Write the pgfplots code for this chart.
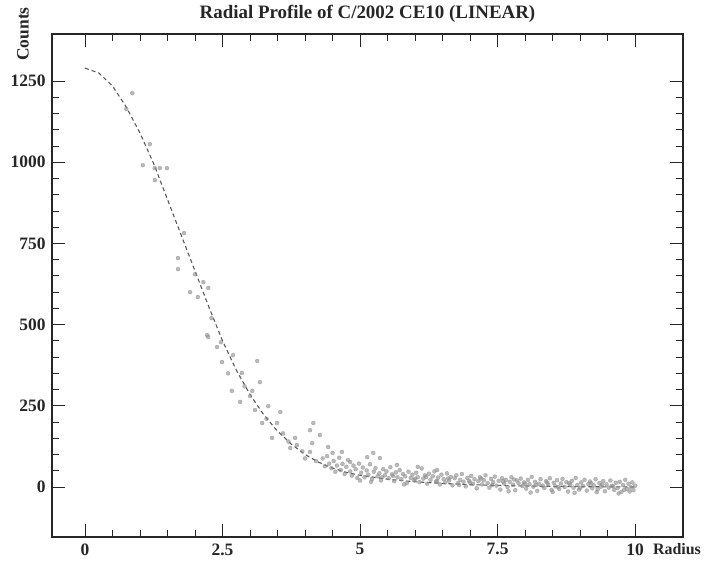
\documentclass[border=0pt]{standalone}
\usepackage{fontspec}
\setmainfont{Liberation Serif}
\usepackage{pgfplots}
\pgfplotsset{compat=1.18}

\begin{document}
\begin{tikzpicture}[font=\fontsize{17.5}{19}\selectfont\bfseries]
\begin{axis}[
    name=ax,
    scale only axis,
    width=631bp, height=503bp,
    xmin=-0.6, xmax=10.87,
    ymin=-154, ymax=1395,
    xtick={0,2.5,5,7.5,10},
    ytick={0,250,500,750,1000,1250},
    minor x tick num=4,
    minor y tick num=4,
    tick align=inside,
    major tick length=13bp,
    minor tick length=7bp,
    axis line style={line width=1.3bp, black!85},
    every tick/.style={black!85, line width=0.9bp},
    /pgf/number format/assume math mode=true,
    /pgf/number format/1000 sep={},
    xticklabel style={yshift=-3bp, black!85},
    yticklabel style={xshift=-3bp, black!85},
    title={Radial Profile of C/2002 CE10 (LINEAR)},
    title style={at={(axis description cs:0.5,1)}, anchor=center, yshift=14bp, black!85, font=\fontsize{19}{21}\selectfont\bfseries},
    ylabel={Counts},
    ylabel style={at={(axis description cs:-0.046,1)}, anchor=center, black!85},
    xlabel={Radius},
    xlabel style={at={(axis description cs:0.9905,0)}, anchor=north, yshift=-3bp, black!85, font=\fontsize{16}{18}\selectfont\bfseries},
]
% fitted profile
\addplot[gray!70!black, line width=1.1bp, dash pattern=on 4bp off 3bp] coordinates {
    (0,1290) (0.25,1275) (0.5,1235) (0.75,1170) (1.0,1090) (1.25,995)
    (1.5,885) (1.75,775) (2.0,665) (2.25,555) (2.5,450) (2.75,360)
    (3.0,285) (3.25,222) (3.5,172) (3.75,132) (4.0,100) (4.25,76)
    (4.5,58) (4.75,45) (5.0,36) (5.5,24) (6.0,16) (6.5,11) (7.0,7)
    (7.5,5) (8.0,3) (9.0,1) (10.0,0)
};
% measured counts
\addplot[only marks, mark=*, mark size=2bp, black!45, opacity=0.6] coordinates {
    (0.86,1213) (1.05,991) (1.18,1056) (1.27,982) (1.36,982) (1.49,982)
    (1.27,945) (0.75,1164) (1.80,782) (1.69,705) (1.69,671) (2.15,631)
    (2.24,613) (1.91,600) (2.05,585) (2.22,468) (2.24,462) (2.47,446)
    (2.40,431) (2.69,406) (2.49,385) (3.13,388) (2.85,351) (3.18,323)
    (2.67,296) (3.04,296) (2.82,262) (3.33,249) (3.09,237) (3.55,231)
    (3.22,197) (3.49,197) (3.40,151) (4.15,197) (4.09,175) (4.27,160)
    (3.82,151) (3.85,129) (4.42,123) (4.09,108) (3.73,120) (4.50,105)
    (4.67,108) (4.13,135) (5.24,105) (5.13,92) (5.36,89) (4.82,77)
    (5.67,68) (6.05,62) (6.40,52) (3.60,165) (3.70,140) (3.95,110)
    (4.00,88) (4.20,80) (3.30,210) (3.00,280) (2.90,310) (2.60,350)
    (2.30,520) (2.00,655)
    (4.32,88) (4.36,64) (4.40,95) (4.44,72) (4.48,58) (4.52,80) (4.55,47)
    (4.58,66) (4.62,90) (4.65,52) (4.68,71) (4.72,40) (4.75,62) (4.78,83)
    (4.82,48) (4.85,35) (4.88,66) (4.92,55) (4.95,28) (4.98,72) (5.02,44)
    (5.05,60) (5.08,30) (5.12,51) (5.15,38) (5.18,70) (5.22,25) (5.25,47)
    (5.28,58) (5.32,33) (5.35,42) (5.38,20) (5.42,55) (5.45,36) (5.48,48)
    (5.52,27) (5.55,61) (5.58,39) (5.62,18) (5.65,45) (5.68,30) (5.72,52)
    (5.75,24) (5.78,40) (5.82,33) (5.85,12) (5.88,47) (5.92,28) (5.95,38)
    (5.98,21) (6.02,44) (6.05,30) (6.08,15) (6.12,57) (6.15,26) (6.18,36)
    (6.22,10) (6.25,41) (6.28,22) (6.32,33) (6.35,48) (6.38,17) (6.42,29)
    (6.45,8) (6.48,38) (6.52,24) (6.55,14) (6.58,42) (6.62,20) (6.65,31)
    (6.68,5) (6.72,27) (6.75,36) (6.78,12) (6.82,22) (6.85,40) (6.88,16)
    (6.92,2) (6.95,28) (6.98,19) (7.02,34) (7.05,10) (7.08,24) (7.12,-4)
    (7.15,18) (7.18,30) (7.22,8) (7.25,21) (7.28,36) (7.32,12) (7.35,-2)
    (7.38,25) (7.42,15) (7.45,32) (7.48,4) (7.52,19) (7.55,-8) (7.58,27)
    (7.62,11) (7.65,22) (7.68,0) (7.72,16) (7.75,30) (7.78,7) (7.82,-10)
    (7.85,20) (7.88,12) (7.92,26) (7.95,3) (7.98,14) (8.02,-5) (8.05,22)
    (8.08,9) (8.12,31) (8.15,1) (8.18,16) (8.22,-12) (8.25,10) (8.28,24)
    (8.32,4) (8.35,-3) (8.38,18) (8.42,8) (8.45,27) (8.48,-9) (8.52,13)
    (8.55,2) (8.58,21) (8.62,-6) (8.65,11) (8.68,25) (8.72,0) (8.75,15)
    (8.78,-14) (8.82,7) (8.85,19) (8.88,-2) (8.92,28) (8.95,6) (8.98,-8)
    (9.02,14) (9.05,3) (9.08,22) (9.12,-11) (9.15,9) (9.18,17) (9.22,-4)
    (9.25,5) (9.28,24) (9.32,-7) (9.35,12) (9.38,1) (9.42,18) (9.45,-13)
    (9.48,8) (9.52,-2) (9.55,20) (9.58,4) (9.62,-9) (9.65,13) (9.68,-3)
    (9.72,16) (9.75,-15) (9.78,6) (9.82,22) (9.85,-6) (9.88,10) (9.92,-1)
    (9.95,14) (9.97,-10)
    (5.00,20) (5.20,16) (5.40,30) (5.60,34) (5.80,8) (6.00,25) (6.20,31)
    (6.40,18) (6.60,26) (6.80,6) (7.00,14) (7.20,26) (7.40,6) (7.60,17)
    (7.80,23) (8.00,10) (8.20,6) (8.40,14) (8.60,0) (8.80,12) (9.00,-3)
    (9.20,11) (9.40,7) (9.60,2) (9.80,-9) (10.0,4) (9.90,-14) (9.70,-20)
    (9.30,-16) (8.90,-18) (8.50,-15) (8.10,-17) (7.70,-13)
};
\end{axis}
\pgfresetboundingbox
\path ([xshift=-52bp,yshift=-29bp]ax.south west) rectangle ([xshift=21bp,yshift=34bp]ax.north east);
\end{tikzpicture}
\end{document}
